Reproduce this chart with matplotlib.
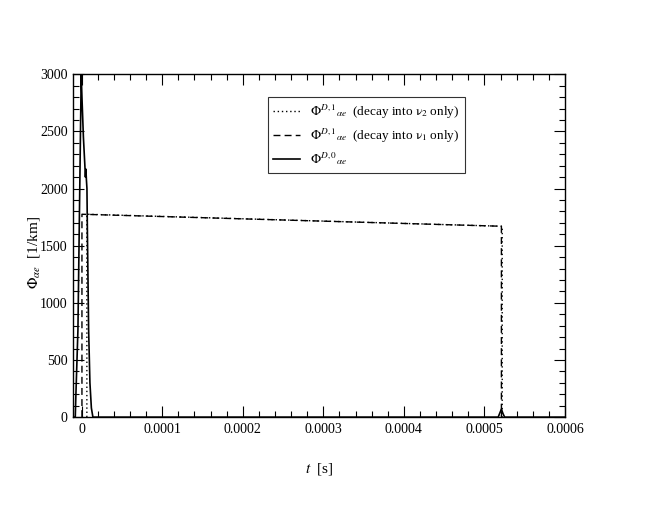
import numpy as np
import matplotlib
matplotlib.use("Agg")
import matplotlib.pyplot as plt
from matplotlib.ticker import MultipleLocator, FuncFormatter

plt.rcParams['font.family'] = ['Liberation Serif', 'DejaVu Serif']
plt.rcParams['mathtext.fontset'] = 'stix'

# solid curve: Phi^{D,0}
t_d0 = [-1e-5, -7.9e-6, -7.1e-6, -4.6e-6, -2.5e-6, -0.5e-6, 0.4e-6, 2.2e-6, 4.1e-6,
        4.7e-6, 5.3e-6, 5.9e-6, 6.6e-6, 7.2e-6, 8.7e-6, 1.03e-5, 1.21e-5, 1.4e-5,
        5.17e-4, 5.19e-4, 5.21e-4, 5.23e-4, 5.25e-4, 6e-4]
phi_d0 = [0, 0, 200, 760, 1900, 3000, 2800, 2450, 2190,
          2100, 2170, 2080, 2000, 1600, 760, 300, 80, 0,
          0, 35, 70, 30, 0, 0]

# dashed: decay into nu_1 only
t_nu1 = [0.4e-6, 0.4e-6, 5.21e-4, 5.21e-4]
phi_nu1 = [0, 1775, 1670, 0]

# dotted: decay into nu_2 only
t_nu2 = [6.5e-6, 6.5e-6, 5.22e-4, 5.22e-4]
phi_nu2 = [0, 1775, 1670, 0]

fig = plt.figure(figsize=(6.54, 5.05), dpi=100)
ax = fig.add_axes([0.112, 0.174, 0.752, 0.679])

ax.plot(t_nu2, phi_nu2, color='black', lw=1.0, linestyle=(0, (1, 2)),
        label=r'$\Phi^{D,1}{}_{\alpha e}$  (decay into $\mathrm{\nu}_2$ only)')
ax.plot(t_nu1, phi_nu1, color='black', lw=1.0, linestyle=(0, (5, 3)),
        label=r'$\Phi^{D,1}{}_{\alpha e}$  (decay into $\mathrm{\nu}_1$ only)')
ax.plot(t_d0, phi_d0, color='black', lw=1.2, label=r'$\Phi^{D,0}{}_{\alpha e}$')

ax.set_xlim(-1.04e-5, 6e-4)
ax.set_ylim(0, 3000)
ax.xaxis.set_major_locator(MultipleLocator(1e-4))
ax.xaxis.set_minor_locator(MultipleLocator(2e-5))
ax.yaxis.set_major_locator(MultipleLocator(500))
ax.yaxis.set_minor_locator(MultipleLocator(100))
ax.xaxis.set_major_formatter(FuncFormatter(lambda v, p: '0' if abs(v) < 1e-12 else f'{v:.4f}'))
ax.tick_params(which='both', direction='in', top=True, right=True, labelsize=10)
ax.tick_params(which='major', length=8, width=0.8, pad=4)
ax.tick_params(which='minor', length=4, width=0.8)
for s in ax.spines.values():
    s.set_linewidth(1.0)

ax.set_xlabel(r'$t$  [s]', fontsize=11, labelpad=18.5)
ax.set_ylabel(r'$\Phi_{\alpha e}$  [1/km]', fontsize=11)
ax.yaxis.set_label_coords(-0.063, 0.48)

leg = ax.legend(loc='upper left', bbox_to_anchor=(0.396, 0.933), fontsize=9.5,
                frameon=True, fancybox=False, edgecolor='black', handlelength=2.0,
                borderpad=0.4, labelspacing=0.45, handletextpad=0.8, borderaxespad=0)
leg.get_frame().set_linewidth(0.8)

fig.savefig('out.png', dpi=100)
